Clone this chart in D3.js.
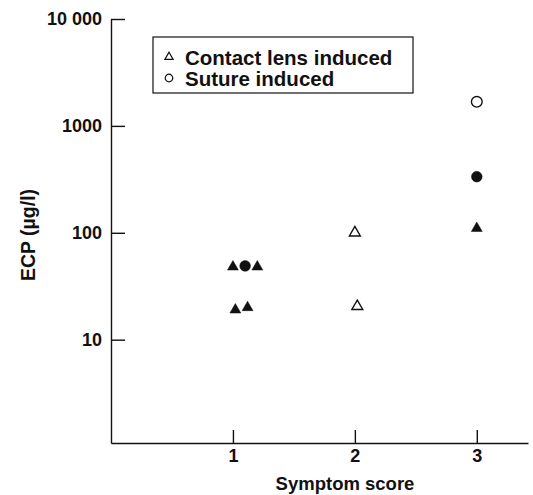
<!DOCTYPE html>
<html>
<head>
<meta charset="utf-8">
<script src="https://cdn.jsdelivr.net/npm/d3@7"></script>
<style>
  body { margin: 0; background: #fff; }
  svg { display: block; font-family: "Liberation Sans", Arial, sans-serif; }
  .axis path, .axis line { stroke: #111; stroke-width: 1.4; }
  .axis text { font-size: 18px; font-weight: bold; fill: #111; font-family: "Liberation Sans", Arial, sans-serif; }
  .axis-label { font-size: 18.5px; font-weight: bold; fill: #111; }
  .legend-text { font-size: 20.5px; font-weight: bold; fill: #111; }
</style>
</head>
<body>
<svg width="533" height="495"></svg>
<script>
// symptom score (slightly offset where points overlap) and ECP in µg/l
const filledTriangles = [[1.0, 48], [1.2, 48], [1.02, 19], [1.12, 20], [3, 110]];
const openTriangles = [[2, 100], [2.02, 20.5]];
const filledCircles = [[1.1, 49], [3, 335]];
const openCircles = [[3, 1680]];

const xTicks = [1, 2, 3];
const yTicks = [10, 100, 1000, 10000];
const legendItems = ['Contact lens induced', 'Suture induced'];

const svg = d3.select('svg');
const axisX = 111, axisY = 443;

const xScale = d3.scaleLinear()
  .domain([0, 3.42])
  .range([axisX, 528]);

const yScale = d3.scaleLog()
  .domain([1.08, 10000])
  .range([axisY, 19]);

const yAxis = d3.axisLeft(yScale)
  .tickValues(yTicks)
  .tickSize(-14)
  .tickSizeOuter(0)
  .tickPadding(9)
  .tickFormat(d => d === 10000 ? '10 000' : String(d));

const yAxisG = svg.append('g')
  .attr('class', 'axis')
  .attr('transform', `translate(${axisX},0)`)
  .call(yAxis);

const xAxis = d3.axisBottom(xScale)
  .tickValues(xTicks)
  .tickSize(-13)
  .tickSizeOuter(0)
  .tickPadding(6)
  .tickFormat(d3.format('d'));

const xAxisG = svg.append('g')
  .attr('class', 'axis')
  .attr('transform', `translate(0,${axisY})`)
  .call(xAxis);

svg.append('text')
  .attr('class', 'axis-label')
  .attr('text-anchor', 'middle')
  .attr('x', 345)
  .attr('y', 490)
  .text('Symptom score');

svg.append('text')
  .attr('class', 'axis-label')
  .attr('text-anchor', 'middle')
  .style('font-size', '19.5px')
  .attr('transform', 'translate(35,235) rotate(-90)')
  .text('ECP (µg/l)');

// points
const tri = d3.symbol().type(d3.symbolTriangle).size(52);
const circ = d3.symbol().type(d3.symbolCircle).size(90);

function drawPoints(data, gen, filled) {
  svg.append('g').selectAll('path')
    .data(data)
    .join('path')
    .attr('d', gen)
    .attr('transform', d => `translate(${xScale(d[0])},${yScale(d[1])})`)
    .attr('fill', filled ? '#111' : '#fff')
    .attr('stroke', '#111')
    .attr('stroke-width', filled ? 0.5 : 1.4);
}

drawPoints(filledTriangles, tri, true);
drawPoints(openTriangles, tri, false);
drawPoints(filledCircles, circ, true);
drawPoints(openCircles, circ, false);

// legend
const legendG = svg.append('g');
legendG.append('rect')
  .attr('x', 153).attr('y', 37)
  .attr('width', 260).attr('height', 56)
  .attr('fill', 'none')
  .attr('stroke', '#111')
  .attr('stroke-width', 1.2);

const legendSymbols = [d3.symbol().type(d3.symbolTriangle).size(30), d3.symbol().type(d3.symbolCircle).size(45)];
legendItems.forEach((label, i) => {
  const y = 57 + i * 21;
  legendG.append('path')
    .attr('d', legendSymbols[i])
    .attr('transform', `translate(169,${y})`)
    .attr('fill', '#fff')
    .attr('stroke', '#111')
    .attr('stroke-width', 1.2);
  legendG.append('text')
    .attr('class', 'legend-text')
    .attr('x', 185)
    .attr('y', y + 7.5)
    .text(label);
});
</script>
</body>
</html>
